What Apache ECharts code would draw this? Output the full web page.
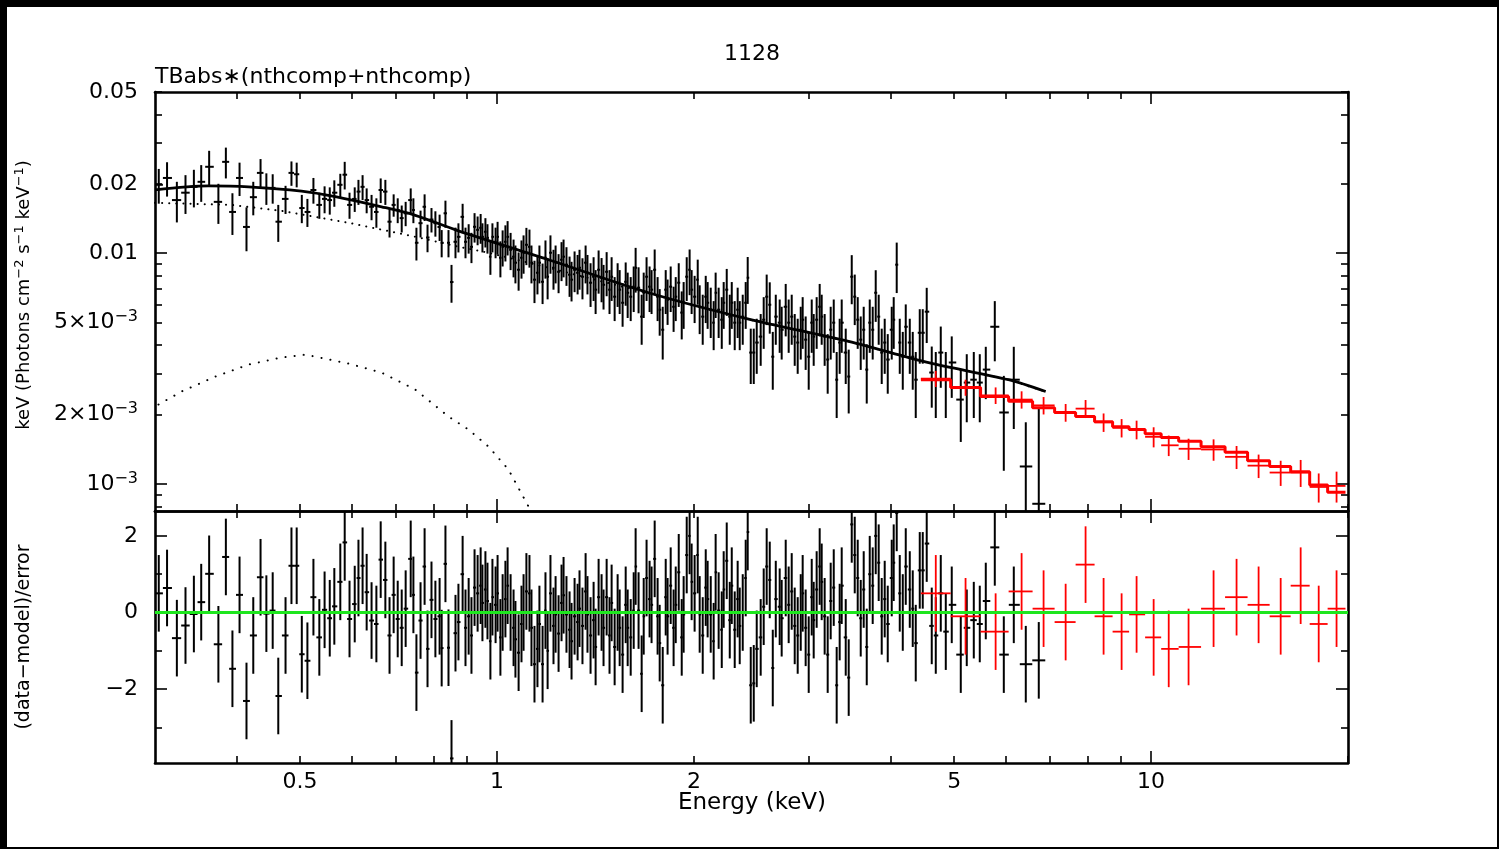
<!DOCTYPE html>
<html><head><meta charset="utf-8">
<script src="https://cdn.jsdelivr.net/npm/echarts@6/dist/echarts.min.js"></script>
<style>
html,body{margin:0;padding:0;background:#fff;}
#chart{position:absolute;left:0;top:0;width:1499px;height:849px;background:#fff;}
.bd{position:absolute;background:#000;z-index:10;}
</style></head><body>
<div id="chart"></div>
<div class="bd" style="left:0;top:0;width:1499px;height:7px"></div>
<div class="bd" style="left:0;top:0;width:7px;height:849px"></div>
<div class="bd" style="left:1497px;top:0;width:2px;height:849px"></div>
<div class="bd" style="left:0;top:847px;width:1499px;height:2px"></div>
<script>
// ---------------- DATA ----------------
const plotTitle = '1128';
const modelName = 'TBabs∗(nthcomp+nthcomp)';

// black (soft instrument) spectrum: energy (keV), flux, 1-sigma error, delchi residual
const blackE = [
0.304,0.313,0.324,0.334,0.344,0.353,0.363,0.375,0.385,0.394,
0.404,0.414,0.424,0.435,0.444,0.454,0.463,0.475,0.485,0.494,
0.503,0.513,0.524,0.535,0.545,0.555,0.564,0.576,0.585,0.595,
0.606,0.614,0.623,0.632,0.643,0.654,0.664,0.675,0.685,0.695,
0.705,0.715,0.725,0.738,0.745,0.753,0.764,0.775,0.783,0.794,
0.805,0.817,0.823,0.834,0.843,0.852,
0.864,0.873,0.886,0.895,0.905,0.914,0.924,0.934,0.944,0.950,
0.960,0.967,0.977,0.984,0.995,1.002,1.012,1.020,1.030,1.038,
1.049,1.060,1.067,1.079,1.090,1.098,1.109,1.121,1.129,1.141,
1.153,1.161,1.174,1.186,1.195,1.207,1.220,1.229,1.242,1.255,
1.264,1.277,1.291,1.300,1.314,1.328,1.337,1.351,1.366,1.375,
1.390,1.405,1.415,1.430,1.445,1.455,1.471,1.486,1.497,1.513,
1.529,1.540,1.556,1.573,1.584,1.601,1.618,1.629,1.646,1.664,
1.676,1.693,1.711,1.723,1.742,1.760,1.773,1.792,1.811,1.823,
1.843,1.862,1.876,1.896,1.916,1.929,1.950,1.970,1.984,2.005,
2.027,2.041,2.063,2.085,2.099,2.122,2.144,2.159,2.182,2.206,
2.221,2.245,2.269,2.285,2.309,2.333,2.350,2.375,2.400,2.417,
2.443,2.469,
2.495,2.530,2.557,2.584,2.612,2.640,2.668,2.705,2.724,2.763,
2.792,2.822,2.852,2.882,2.913,2.933,2.964,2.996,3.028,3.049,
3.081,3.114,3.136,3.169,3.203,3.237,3.272,3.306,3.341,3.365,
3.413,3.449,3.486,3.523,3.560,3.598,3.636,3.675,3.714,3.753,
3.793,3.833,3.874,3.915,3.957,4.013,4.041,4.084,4.128,4.172,
4.216,4.276,4.321,4.367,4.429,4.476,4.539,4.620,4.686,4.769,
4.854,4.957,5.117,5.226,5.357,5.471,5.588,5.768,5.954,6.167,
6.433,6.734];
const blackFlux = [
0.0198,0.0212,0.0170,0.0183,0.0194,0.0204,0.0237,0.0167,0.0249,0.0151,
0.0212,0.0130,0.0175,0.0223,0.0192,0.0192,0.0137,0.0172,0.0223,0.0220,
0.0157,0.0151,0.0188,0.0162,0.0172,0.0170,0.0183,0.0198,0.0219,0.0162,
0.0172,0.0185,0.0194,0.0170,0.0159,0.0151,0.0188,0.0185,0.0137,0.0162,
0.0154,0.0142,0.0149,0.0170,0.0154,0.0111,0.0135,0.0159,0.0117,0.0140,
0.0135,0.0130,0.0111,0.0149,0.0111,0.0075,
0.01121,0.01178,0.01438,0.01121,0.01166,0.01066,0.01302,0.01263,0.01289,0.01178,
0.01239,0.01166,0.00966,0.01178,0.01121,0.01178,0.00956,0.01066,0.01121,0.01178,
0.01035,0.00966,0.00910,0.00848,0.00956,0.01005,0.01088,0.01066,0.00910,0.00768,
0.00823,0.00910,0.00752,0.00956,0.00791,0.01005,0.00865,0.00910,0.00831,0.00937,
0.00966,0.00892,0.00807,0.00768,0.00848,0.00823,0.00865,0.00791,0.00910,0.00823,
0.00745,0.00791,0.00695,0.00848,0.00783,0.00730,0.00831,0.00695,0.00791,0.00648,
0.00745,0.00695,0.00610,0.00752,0.00674,0.00648,0.00716,0.00865,0.00709,0.00531,
0.00674,0.00791,0.00716,0.00695,0.00848,0.00648,0.00569,0.00466,0.00695,0.00629,
0.00716,0.00586,0.00648,0.00745,0.00553,0.00610,0.00791,0.00848,0.00695,0.00648,
0.00768,0.00586,0.00531,0.00648,0.00610,0.00569,0.00500,0.00674,0.00569,0.00515,
0.00610,0.00695,0.00531,0.00610,0.00500,0.00569,0.00500,0.00531,0.00610,0.00783,
0.00371,0.00371,
0.00410,0.00435,0.00515,0.00648,0.00598,0.00356,0.00531,0.00500,0.00466,0.00586,
0.00500,0.00531,0.00435,0.00410,0.00466,0.00515,0.00422,0.00356,0.00500,0.00435,
0.00515,0.00586,0.00531,0.00435,0.00346,0.00466,0.00500,0.00283,0.00410,0.00500,
0.00371,0.00292,0.00791,0.00648,0.00515,0.00422,0.00466,0.00313,0.00500,0.00466,
0.00674,0.00531,0.00371,0.00410,0.00346,0.00466,0.00515,0.00892,0.00410,0.00356,
0.00480,0.00410,0.00356,0.00283,0.00452,0.00452,0.00558,0.00304,0.00283,0.00371,
0.00283,0.00336,0.00232,0.00275,0.00283,0.00275,0.00313,0.00480,0.00204,0.00283,
0.00119,0.00082];
const blackErr = [
0.0034,0.0036,0.0034,0.0035,0.0036,0.0037,0.0041,0.0033,0.0038,0.0031,
0.0035,0.0028,0.0029,0.0033,0.0030,0.0028,0.0025,0.0024,0.0027,0.0027,
0.0022,0.0021,0.0024,0.0021,0.0023,0.0023,0.0024,0.0023,0.0030,0.0021,
0.0021,0.0023,0.0024,0.0021,0.0020,0.0022,0.0023,0.0023,0.0020,0.0018,
0.0019,0.0019,0.0018,0.0021,0.0019,0.0018,0.0018,0.0021,0.0016,0.0017,
0.0017,0.0017,0.0015,0.0020,0.0015,0.0014,
0.0017,0.0017,0.0020,0.0017,0.0017,0.0016,0.0019,0.0018,0.0019,0.0017,
0.0018,0.0017,0.0016,0.0017,0.0017,0.0019,0.0017,0.0019,0.0020,0.0020,
0.0019,0.0018,0.0017,0.0016,0.0018,0.0019,0.0020,0.0020,0.0017,0.0016,
0.0016,0.0017,0.0015,0.0018,0.0016,0.0019,0.0017,0.0017,0.0016,0.0018,
0.0018,0.0017,0.0016,0.0015,0.0017,0.0016,0.0017,0.0016,0.0017,0.0016,
0.0016,0.0017,0.0015,0.0018,0.0017,0.0016,0.0018,0.0015,0.0017,0.0014,
0.0016,0.0015,0.0013,0.0016,0.0015,0.0014,0.0016,0.0019,0.0016,0.0013,
0.0015,0.0017,0.0016,0.0015,0.0019,0.0014,0.0013,0.0012,0.0015,0.0014,
0.0016,0.0013,0.0014,0.0016,0.0013,0.0014,0.0017,0.0019,0.0015,0.0015,
0.0017,0.0014,0.0013,0.0015,0.0014,0.0014,0.0012,0.0015,0.0014,0.0013,
0.0014,0.0016,0.0013,0.0014,0.0012,0.0014,0.0012,0.0013,0.0014,0.0018,
0.0010,0.0010,
0.0011,0.0011,0.0013,0.0016,0.0015,0.0010,0.0013,0.0013,0.0012,0.0015,
0.0013,0.0013,0.0011,0.0011,0.0012,0.0013,0.0011,0.0010,0.0013,0.0011,
0.0013,0.0015,0.0013,0.0011,0.0010,0.0012,0.0013,0.0009,0.0011,0.0013,
0.0010,0.0009,0.0019,0.0016,0.0013,0.0011,0.0012,0.0009,0.0013,0.0012,
0.0017,0.0013,0.0010,0.0011,0.0010,0.0012,0.0013,0.0022,0.0011,0.0010,
0.0012,0.0011,0.0010,0.0009,0.0012,0.0012,0.0015,0.0009,0.0009,0.0011,
0.0009,0.0010,0.0008,0.0009,0.0009,0.0009,0.0008,0.0014,0.0009,0.0011,
0.00066,0.0013];
const blackResid = [
0.5,0.64,-0.67,-0.34,-0.04,0.27,1.01,-0.83,1.45,-1.47,
0.46,-2.31,-0.6,0.92,-0.03,0.05,-2.18,-0.6,1.22,1.22,
-1.09,-1.26,0.4,-0.65,0.07,-0.15,0.16,0.8,1.83,-0.17,
0.22,0.9,1.22,0.53,-0.21,-0.3,1.38,0.85,-0.6,0.46,
-0.17,-0.4,0.1,1.4,0.46,-1.57,-0.21,1.2,-0.95,0.33,
-0.17,-0.1,-0.93,1.27,-0.92,-3.81,
-0.54,-0.25,1.0,-0.4,-0.1,-0.6,0.65,0.5,0.7,0.25,
0.6,0.3,-0.75,0.4,0.2,0.5,-0.65,0.0,0.35,0.7,
0.0,-0.4,-0.7,-1.05,-0.3,0.0,0.55,0.5,-0.4,-1.35,
-0.95,-0.3,-1.35,0.05,-1.0,0.5,-0.35,-0.05,-0.55,0.25,
0.45,-0.05,-0.45,-0.75,-0.1,-0.25,0.1,-0.35,0.55,-0.05,
-0.6,-0.2,-0.9,0.4,0.0,-0.4,0.4,-0.6,0.25,-0.9,
0.0,-0.4,-1.1,0.2,-0.4,-0.65,0.05,1.2,0.05,-1.6,
-0.1,0.9,0.35,0.2,1.4,-0.1,-0.8,-1.9,0.4,-0.1,
0.7,-0.4,0.2,1.05,-0.65,-0.05,1.5,2.0,0.8,0.5,
1.5,-0.05,-0.6,0.65,0.35,-0.05,-0.75,1.05,0.05,-0.45,
0.6,1.35,-0.2,0.7,-0.45,0.35,-0.35,0.0,0.9,2.1,
-1.9,-1.85,
-0.95,-0.65,0.15,1.2,0.85,-1.45,0.35,0.15,-0.15,0.9,
0.2,0.55,-0.35,-0.6,0.0,0.5,-0.4,-1.1,0.4,-0.2,
0.6,1.2,0.8,-0.1,-1.1,0.3,0.65,-1.9,-0.25,0.7,
-0.65,-1.7,2.3,1.5,0.9,-0.15,0.6,-0.9,1.0,0.7,
2.0,1.3,-0.1,0.35,-0.3,0.9,1.3,2.6,0.5,0.0,
1.2,0.6,0.1,-0.8,1.1,1.1,1.8,-0.35,-0.6,0.5,
-0.5,0.2,-1.1,-0.4,-0.2,-0.3,0.3,1.7,-1.1,0.2,
-1.35,-1.25];

// red (hard instrument) spectrum
const redE     = [4.686,5.204,5.785,6.339,6.849,7.402,7.940,8.460,9.014,9.502,10.09,10.64,11.41,12.46,13.51,14.60,15.78,16.93,18.04,19.21];
const redFlux  = [0.00286,0.00262,0.00242,0.00232,0.00219,0.00204,0.00212,0.00185,0.00175,0.00172,0.00160,0.00147,0.00142,0.00141,0.00131,0.00120,0.00112,0.00112,0.00097,0.00098];
const redErr   = [0.00023,0.00021,0.00020,0.00020,0.00019,0.00018,0.00019,0.00017,0.00016,0.00016,0.00016,0.00015,0.00015,0.00015,0.00015,0.00014,0.00014,0.00015,0.00014,0.00015];
const redModel = [0.00283,0.00262,0.00239,0.00228,0.00214,0.00204,0.00196,0.00186,0.00177,0.00172,0.00165,0.00159,0.00153,0.00145,0.00137,0.00126,0.00119,0.00113,0.00099,0.00092];
const redResid = [0.5,-0.1,-0.5,0.55,0.1,-0.25,1.25,-0.1,-0.5,-0.05,-0.65,-0.95,-0.9,0.1,0.4,0.2,-0.1,0.7,-0.3,0.1];

// black total model and its two components
const modelE = [0.300,0.362,0.417,0.5025,0.566,0.666,0.750,0.873,1.199,1.705,2.425,3.447,4.569,6.05,6.90];
const modelV = [0.01882,0.01959,0.01941,0.0186,0.0176,0.0159,0.0146,0.0125,0.00937,0.00674,0.00518,0.00415,0.003355,0.00283,0.002514];
const comp1E = [0.300,0.393,0.468,0.593,0.750,0.873,0.970,1.117,1.705,2.425,3.447,4.569,6.05,6.90];
const comp1V = [0.01654,0.0162,0.01527,0.01355,0.01179,0.01067,0.01005,0.0091,0.0067,0.00517,0.00414,0.00335,0.00283,0.00251];
const comp2E = [0.3037,0.3293,0.3712,0.417,0.468,0.5096,0.593,0.666,0.750,0.843,0.9046,0.970,1.041,1.117,1.178];
const comp2V = [0.002208,0.002514,0.00292,0.00329,0.00353,0.003634,0.003323,0.003037,0.002564,0.001959,0.00172,0.001453,0.001155,0.000799,0.0006];

// axes
const xRange = [0.3, 20];
const yTopRange = [7.63e-4, 0.05];
const yBotRange = [-3.93, 2.65];
const xMajorTicks = [1, 10];
const xMinorTicks = [0.4,0.5,0.6,0.7,0.8,0.9,2,3,4,5,6,7,8,9,20];
const xLabelVals = [0.5, 1, 2, 5, 10];
const xLabelText = ['0.5', '1', '2', '5', '10'];
const yTopMajorTicks = [0.001, 0.01];
const yTopMinorTicks = [0.0008,0.0009,0.002,0.003,0.004,0.005,0.006,0.007,0.008,0.009,0.02,0.03,0.04,0.05];
const yTopLabelVals = [0.001, 0.002, 0.005, 0.01, 0.02, 0.05];
const yTopLabelText = ['10{s|−3}', '2×10{s|−3}', '5×10{s|−3}', '0.01', '0.02', '0.05'];
const yBotMajorTicks = [-2, 0, 2];
const yBotMinorTicks = [-3, -1, 1];
const yBotLabelVals = [-2, 0, 2];
const yBotLabelText = ['−2', '0', '2'];
const residHalfBar = 1; // delchi error bars are +/-1 sigma

[blackFlux, blackErr, blackResid].forEach(a => { if (a.length !== blackE.length) throw new Error('black length mismatch ' + a.length + ' vs ' + blackE.length); });

// ---------------- BUILD ----------------
const FONT = "'DejaVu Sans', sans-serif";
const LAB = 22;

function binEdges(E) {
  const lo = [], hi = [];
  for (let i = 0; i < E.length; i++) {
    const prev = i > 0 ? Math.sqrt(E[i-1] * E[i]) : null;
    const next = i < E.length - 1 ? Math.sqrt(E[i] * E[i+1]) : null;
    lo.push(prev !== null ? prev : E[i] * E[i] / next);
    hi.push(next !== null ? next : E[i] * E[i] / prev);
  }
  return { lo, hi };
}
const bEd = binEdges(blackE), rEd = binEdges(redE);
const FLOOR = 1e-6;
const blackSpec = blackE.map((e, i) => [e, blackFlux[i], bEd.lo[i], bEd.hi[i], Math.max(blackFlux[i] - blackErr[i], FLOOR), blackFlux[i] + blackErr[i]]);
const redSpec = redE.map((e, i) => [e, redFlux[i], rEd.lo[i], rEd.hi[i], Math.max(redFlux[i] - redErr[i], FLOOR), redFlux[i] + redErr[i]]);
const blackRes = blackE.map((e, i) => [e, blackResid[i], bEd.lo[i], bEd.hi[i], blackResid[i] - residHalfBar, blackResid[i] + residHalfBar]);
const redRes = redE.map((e, i) => [e, redResid[i], rEd.lo[i], rEd.hi[i], redResid[i] - residHalfBar, redResid[i] + residHalfBar]);
const redStep = [];
redE.forEach((e, i) => { redStep.push([rEd.lo[i], redModel[i]]); redStep.push([rEd.hi[i], redModel[i]]); });

function crossRender(color, lw) {
  return function (params, api) {
    const x = api.value(0), y = api.value(1), xl = api.value(2), xh = api.value(3), yl = api.value(4), yh = api.value(5);
    const a = api.coord([xl, y]), b = api.coord([xh, y]), c = api.coord([x, yl]), d = api.coord([x, yh]);
    const st = { stroke: color, lineWidth: lw };
    return { type: 'group', children: [
      { type: 'line', shape: { x1: a[0], y1: a[1], x2: b[0], y2: b[1] }, style: st },
      { type: 'line', shape: { x1: c[0], y1: c[1], x2: d[0], y2: d[1] }, style: st }
    ]};
  };
}
function pick(vals, texts, v) {
  for (let i = 0; i < vals.length; i++) if (Math.abs(vals[i] - v) <= Math.abs(vals[i]) * 1e-6 + 1e-9) return texts[i];
  return '';
}
const supRich = { s: { fontSize: 16, fontFamily: FONT, color: '#000', padding: [0, 0, 11, 0] } };

function xAx(grid, pos, ticks, len, line, labels) {
  return {
    type: 'log', logBase: 10, gridIndex: grid, position: pos, min: xRange[0], max: xRange[1],
    axisLine: { show: line, onZero: false, lineStyle: { color: '#000', width: 2.6 } },
    axisTick: { show: true, inside: true, length: len, customValues: ticks, lineStyle: { color: '#000', width: 1.6 } },
    axisLabel: labels ? { show: true, customValues: labels, margin: 8, color: '#000', fontSize: LAB, fontFamily: FONT,
      formatter: v => pick(xLabelVals, xLabelText, v) } : { show: false },
    splitLine: { show: false }, minorTick: { show: false }, minorSplitLine: { show: false }
  };
}
function yTop(pos, ticks, len, line, labels) {
  return {
    type: 'log', logBase: 10, gridIndex: 0, position: pos, min: yTopRange[0], max: yTopRange[1],
    axisLine: { show: line, onZero: false, lineStyle: { color: '#000', width: 2.6 } },
    axisTick: { show: true, inside: true, length: len, customValues: ticks, lineStyle: { color: '#000', width: 1.6 } },
    axisLabel: labels ? { show: true, customValues: labels, margin: 17, color: '#000', fontSize: LAB, fontFamily: FONT, rich: supRich,
      formatter: v => pick(yTopLabelVals, yTopLabelText, v) } : { show: false },
    splitLine: { show: false }, minorTick: { show: false }, minorSplitLine: { show: false }
  };
}
function yBot(pos, ticks, len, line, labels) {
  return {
    type: 'value', gridIndex: 1, position: pos, min: yBotRange[0], max: yBotRange[1],
    axisLine: { show: line, onZero: false, lineStyle: { color: '#000', width: 2.6 } },
    axisTick: { show: true, inside: true, length: len, customValues: ticks, lineStyle: { color: '#000', width: 1.6 } },
    axisLabel: labels ? { show: true, customValues: labels, margin: 17, color: '#000', fontSize: LAB, fontFamily: FONT,
      formatter: v => pick(yBotLabelVals, yBotLabelText, v) } : { show: false },
    splitLine: { show: false }, minorTick: { show: false }, minorSplitLine: { show: false }
  };
}
const MAJ = 12, MIN = 7;

const option = {
  animation: false,
  backgroundColor: '#fff',
  grid: [
    { left: 155, top: 92, width: 1193, height: 419, containLabel: false, outerBoundsMode: 'none' },
    { left: 155, top: 511, width: 1193, height: 252, containLabel: false, outerBoundsMode: 'none' }
  ],
  xAxis: [
    xAx(0, 'bottom', xMajorTicks, MAJ, true, null),
    xAx(1, 'bottom', xMajorTicks, MAJ, true, xLabelVals),
    xAx(0, 'bottom', xMinorTicks, MIN, false, null),
    xAx(0, 'top', xMajorTicks, MAJ, true, null),
    xAx(0, 'top', xMinorTicks, MIN, false, null),
    xAx(1, 'bottom', xMinorTicks, MIN, false, null),
    xAx(1, 'top', xMajorTicks, MAJ, true, null),
    xAx(1, 'top', xMinorTicks, MIN, false, null)
  ],
  yAxis: [
    yTop('left', yTopMajorTicks, MAJ, true, yTopLabelVals),
    yBot('left', yBotMajorTicks, MAJ, true, yBotLabelVals),
    yTop('left', yTopMinorTicks, MIN, false, null),
    yTop('right', yTopMajorTicks, MAJ, true, null),
    yTop('right', yTopMinorTicks, MIN, false, null),
    yBot('left', yBotMinorTicks, MIN, false, null),
    yBot('right', yBotMajorTicks, MAJ, true, null),
    yBot('right', yBotMinorTicks, MIN, false, null)
  ],
  graphic: [
    { type: 'text', x: 752, y: 54, style: { text: plotTitle, fontSize: 22, fontFamily: FONT, fill: '#000', align: 'center', verticalAlign: 'middle' } },
    { type: 'text', x: 155, y: 77, style: { text: modelName, fontSize: 22, fontFamily: FONT, fill: '#000', align: 'left', verticalAlign: 'middle' } },
    { type: 'text', x: 752, y: 803, style: { text: 'Energy (keV)', fontSize: 23, fontFamily: FONT, fill: '#000', align: 'center', verticalAlign: 'middle' } },
    { type: 'text', x: 24, y: 295, rotation: Math.PI / 2, style: { text: 'keV (Photons cm{s|−2} s{s|−1} keV{s|−1})', fontSize: 18, fontFamily: FONT, fill: '#000', align: 'center', verticalAlign: 'middle',
        rich: { s: { fontSize: 13, fontFamily: FONT, fill: '#000', padding: [0, 0, 9, 0] } } } },
    { type: 'text', x: 24, y: 637, rotation: Math.PI / 2, style: { text: '(data−model)/error', fontSize: 19, fontFamily: FONT, fill: '#000', align: 'center', verticalAlign: 'middle' } }
  ],
  series: [
    { type: 'line', xAxisIndex: 0, yAxisIndex: 0, data: comp2E.map((e, i) => [e, comp2V[i]]), showSymbol: false, clip: true, z: 2,
      lineStyle: { color: '#000', width: 2, type: [0.1, 9], cap: 'round' } },
    { type: 'line', xAxisIndex: 0, yAxisIndex: 0, data: comp1E.map((e, i) => [e, comp1V[i]]), showSymbol: false, clip: true, z: 2,
      lineStyle: { color: '#000', width: 2, type: [0.1, 7], cap: 'round' } },
    { type: 'custom', xAxisIndex: 0, yAxisIndex: 0, data: blackSpec, renderItem: crossRender('#000', 2), clip: true, z: 3, encode: { x: 0, y: 1 } },
    { type: 'custom', xAxisIndex: 0, yAxisIndex: 0, data: redSpec, renderItem: crossRender('#ff0000', 1.8), clip: true, z: 3, encode: { x: 0, y: 1 } },
    { type: 'line', xAxisIndex: 0, yAxisIndex: 0, data: modelE.map((e, i) => [e, modelV[i]]), showSymbol: false, clip: true, z: 4, smooth: 0.3,
      lineStyle: { color: '#000', width: 2.8 } },
    { type: 'line', xAxisIndex: 0, yAxisIndex: 0, data: redStep, showSymbol: false, clip: true, z: 4,
      lineStyle: { color: '#ff0000', width: 3 } },
    { type: 'custom', xAxisIndex: 1, yAxisIndex: 1, data: blackRes, renderItem: crossRender('#000', 2), clip: true, z: 3, encode: { x: 0, y: 1 } },
    { type: 'custom', xAxisIndex: 1, yAxisIndex: 1, data: redRes, renderItem: crossRender('#ff0000', 1.8), clip: true, z: 3, encode: { x: 0, y: 1 } },
    { type: 'line', xAxisIndex: 1, yAxisIndex: 1, data: [], z: 6, silent: true,
      markLine: { silent: true, symbol: ['none', 'none'], label: { show: false }, lineStyle: { color: '#1ee61e', width: 3, type: 'solid' }, data: [{ yAxis: 0 }] } }
  ]
};
const chart = echarts.init(document.getElementById('chart'), null, { renderer: 'canvas' });
chart.setOption(option);
</script>
</body></html>
